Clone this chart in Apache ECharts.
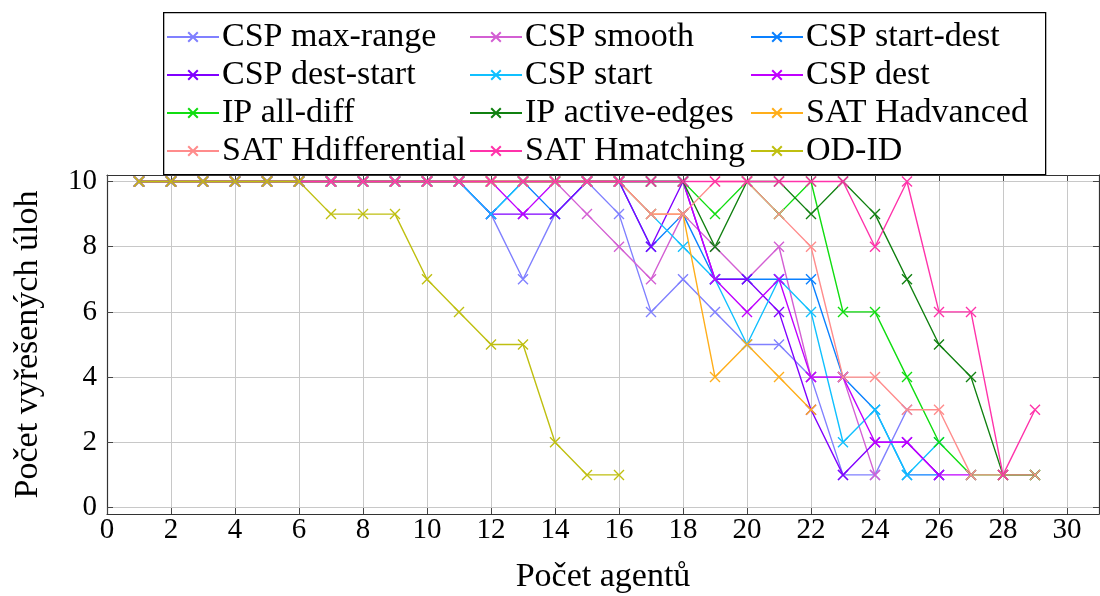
<!DOCTYPE html>
<html>
<head>
<meta charset="utf-8">
<script src="https://cdn.jsdelivr.net/npm/echarts@6/dist/echarts.min.js"></script>
<style>
html,body{margin:0;padding:0;background:#fff;}
#chart{width:1100px;height:596px;}
</style>
</head>
<body>
<div id="chart"></div>
<script>
// ---- data ----
const agents = [1,2,3,4,5,6,7,8,9,10,11,12,13,14,15,16,17,18,19,20,21,22,23,24,25,26,27,28,29];
const xTicks = [0,2,4,6,8,10,12,14,16,18,20,22,24,26,28,30];
const yTicks = [0,2,4,6,8,10];

const seriesNames = ['CSP max-range','CSP smooth','CSP start-dest','CSP dest-start','CSP start','CSP dest',
  'IP all-diff','IP active-edges','SAT Hadvanced','SAT Hdifferential','SAT Hmatching','OD-ID'];

const cspMaxRange  = [10,10,10,10,10,10,10,10,10,10,10, 9,7,9,10,9,6,7,6,5,5,4,1,1,3];
const cspSmooth    = [10,10,10,10,10,10,10,10,10,10,10,10,10,10, 9,8,7,9,8,7,8,4,4,1];
const cspStartDest = [10,10,10,10,10,10,10,10,10,10,10, 9,10,9,10,10,8,9,7,7,7,7,4,3,1,1];
const cspDestStart = [10,10,10,10,10,10,10,10,10,10,10, 9,9,9,10,10,8,10,7,7,6,3,1,2,2,1];
const cspStart     = [10,10,10,10,10,10,10,10,10,10,10, 9,10,10,10,10,9,8,7,5,7,6,2,3,1,2];
const cspDest      = [10,10,10,10,10,10,10,10,10,10,10,10, 9,10,10,10,10,10,7,6,7,4,4,2,2,1,1];
const ipAllDiff    = [10,10,10,10,10,10,10,10,10,10,10,10,10,10,10,10,10,10, 9,10,9,10,6,6,4,2,1,1,1];
const ipActiveEdges= [10,10,10,10,10,10,10,10,10,10,10,10,10,10,10,10,10,10, 8,10,10,9,10,9,7,5,4,1,1];
const satHadvanced = [10,10,10,10,10,10,10,10,10,10,10,10,10,10,10,10, 9,9,4,5,4,3];
const satHdiff     = [10,10,10,10,10,10,10,10,10,10,10,10,10,10,10,10, 9,9,10,10,9,8,4,4,3,3,1,1,1];
const satHmatching = [10,10,10,10,10,10,10,10,10,10,10,10,10,10,10,10,10,10,10,10,10,10,10,8,10,6,6,1,3];
const odId         = [10,10,10,10,10,10, 9,9,9,7,6,5,5,2,1,1];

const seriesValues = [cspMaxRange,cspSmooth,cspStartDest,cspDestStart,cspStart,cspDest,
  ipAllDiff,ipActiveEdges,satHadvanced,satHdiff,satHmatching,odId];
const colors = ['#8080ff','#d35fd3','#0a80ff','#8000ff','#10c0ff','#c000ff',
  '#10dd10','#108010','#ffae1a','#ff8c8c','#ff33aa','#bfbf10'];

const FONT = 'Liberation Serif';
const XMARK = 'path://M0,0L10,10M10,0L0,10';

const series = seriesValues.map((vals, i) => ({
  name: seriesNames[i],
  type: 'line',
  data: vals.map((v, j) => [agents[j], v]),
  symbol: XMARK,
  symbolSize: 10,
  xAxisIndex: 0, yAxisIndex: 0,
  lineStyle: {color: colors[i], width: 1.4},
  itemStyle: {color: colors[i], borderColor: colors[i], borderWidth: 1.4},
  emphasis: {disabled: true},
  animation: false,
  z: 3
}));

function legendCol(names, left) {
  return {
    orient: 'vertical', left: left, top: 20,
    data: names,
    itemWidth: 52, itemHeight: 12, itemGap: 4,
    textStyle: {fontFamily: FONT, fontSize: 34, color: '#000', lineHeight: 32, padding: [0,0,0,-2]},
    selectedMode: false,
    padding: 0
  };
}

const axisLineStyle = {color: '#333', width: 1.2};
const tickStyle = {inside: true, length: 6, lineStyle: {color: '#444', width: 1}};

const option = {
  backgroundColor: '#fff',
  animation: false,
  color: colors,
  grid: {left: 107, right: 1, top: 175, height: 339, containLabel: false, outerBoundsMode: 'none'},
  legend: [
    legendCol([seriesNames[0], seriesNames[3], seriesNames[6], seriesNames[9]], 166),
    legendCol([seriesNames[1], seriesNames[4], seriesNames[7], seriesNames[10]], 469),
    legendCol([seriesNames[2], seriesNames[5], seriesNames[8], seriesNames[11]], 750)
  ],
  graphic: [{
    type: 'rect', left: 163, top: 12, z: -1,
    shape: {x: 0, y: 0, width: 882, height: 162},
    style: {fill: '#fff', stroke: '#000', lineWidth: 1.3}
  }],
  xAxis: [{
    type: 'value', min: 0, max: 31,
    name: 'Počet agentů', nameLocation: 'middle', nameGap: 46,
    nameTextStyle: {fontFamily: FONT, fontSize: 34, color: '#000'},
    axisLine: {show: true, onZero: false, lineStyle: axisLineStyle},
    axisTick: Object.assign({customValues: xTicks}, tickStyle),
    axisLabel: {customValues: xTicks, fontFamily: FONT, fontSize: 29, color: '#000', margin: 2},
    splitLine: {show: true, lineStyle: {color: '#c8c8c8', width: 1}}
  }, {
    type: 'value', min: 0, max: 31, position: 'top',
    axisLine: {show: true, onZero: false, lineStyle: axisLineStyle},
    axisTick: Object.assign({customValues: xTicks}, tickStyle),
    axisLabel: {show: false},
    splitLine: {show: false}
  }],
  yAxis: [{
    type: 'value', min: -0.2, max: 10.2,
    name: 'Počet vyřešených úloh', nameLocation: 'middle', nameGap: 62, nameRotate: 90,
    nameTextStyle: {fontFamily: FONT, fontSize: 34, color: '#000'},
    axisLine: {show: true, onZero: false, lineStyle: axisLineStyle},
    axisTick: Object.assign({customValues: yTicks}, tickStyle),
    axisLabel: {customValues: yTicks, fontFamily: FONT, fontSize: 29, color: '#000', margin: 10},
    splitLine: {show: true, lineStyle: {color: '#c8c8c8', width: 1}}
  }, {
    type: 'value', min: -0.2, max: 10.2, position: 'right',
    axisLine: {show: true, onZero: false, lineStyle: axisLineStyle},
    axisTick: Object.assign({customValues: yTicks}, tickStyle),
    axisLabel: {show: false},
    splitLine: {show: false}
  }],
  series: series
};

const chart = echarts.init(document.getElementById('chart'), null, {renderer: 'canvas'});
chart.setOption(option);
</script>
</body>
</html>
